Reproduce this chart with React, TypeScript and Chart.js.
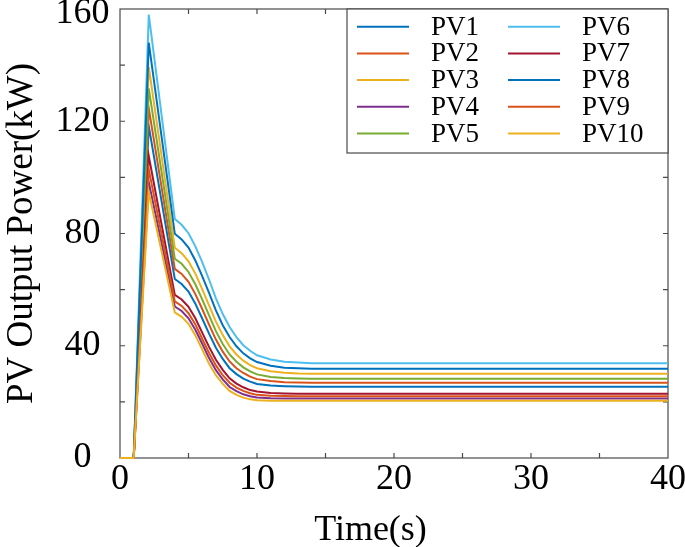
import { useEffect, useRef } from "react"
import { Chart, registerables } from "chart.js"

Chart.register(...registerables)

// time samples (s)
const times = [0, 1, 2.1, 4, 4.5, 5, 5.5, 6, 6.5, 7, 7.5, 8, 8.5, 9, 9.5, 10, 11, 12, 13, 14, 40]

// PV output power (kW)
const pv1 = [0, 0, 118.3, 63.8, 62.0, 59.3, 55.0, 49.7, 44.3, 39.3, 35.3, 32.0, 29.9, 28.3, 27.2, 26.4, 25.8, 25.6, 25.5, 25.4, 25.4]
const pv2 = [0, 0, 124.6, 67.4, 65.6, 62.8, 58.4, 53.1, 47.5, 42.2, 37.9, 34.4, 32.0, 30.3, 29.0, 28.1, 27.4, 27.0, 26.9, 26.8, 26.8]
const pv3 = [0, 0, 139.4, 74.9, 73.0, 70.1, 65.7, 60.2, 54.4, 48.6, 43.8, 39.8, 36.9, 34.7, 33.1, 32.0, 30.9, 30.4, 30.1, 30.0, 30.0]
const pv4 = [0, 0, 98.3, 54.0, 52.4, 49.8, 45.7, 40.7, 35.6, 31.3, 28.0, 25.3, 23.8, 22.7, 22.0, 21.6, 21.3, 21.2, 21.2, 21.2, 21.2]
const pv5 = [0, 0, 131.7, 71.0, 69.2, 66.3, 61.9, 56.5, 50.8, 45.2, 40.6, 36.9, 34.3, 32.3, 30.9, 29.8, 28.9, 28.5, 28.3, 28.2, 28.2]
const pv6 = [0, 0, 158.0, 85.2, 83.1, 80.1, 75.4, 69.8, 63.6, 56.9, 51.3, 46.7, 43.1, 40.2, 38.2, 36.6, 35.1, 34.3, 34.0, 33.8, 33.8]
const pv7 = [0, 0, 107.6, 58.1, 56.5, 53.9, 49.8, 44.7, 39.6, 35.0, 31.4, 28.4, 26.5, 25.2, 24.2, 23.7, 23.2, 23.0, 22.9, 22.9, 22.9]
const pv8 = [0, 0, 148.0, 79.9, 77.9, 75.0, 70.4, 64.8, 58.8, 52.6, 47.3, 43.1, 39.8, 37.3, 35.5, 34.2, 32.9, 32.2, 32.0, 31.8, 31.8]
const pv9 = [0, 0, 102.9, 55.8, 54.2, 51.6, 47.6, 42.5, 37.4, 33.0, 29.5, 26.8, 25.1, 23.9, 23.1, 22.5, 22.2, 22.1, 22.0, 22.0, 22.0]
const pv10 = [0, 0, 94.7, 51.9, 50.3, 47.8, 43.7, 38.7, 33.6, 29.5, 26.4, 23.9, 22.5, 21.5, 20.9, 20.6, 20.4, 20.4, 20.4, 20.4, 20.4]

const seriesNames = ["PV1", "PV2", "PV3", "PV4", "PV5", "PV6", "PV7", "PV8", "PV9", "PV10"]
const seriesValues = [pv1, pv2, pv3, pv4, pv5, pv6, pv7, pv8, pv9, pv10]
const colors = [
  "#0072BD", "#D95319", "#EDB120", "#7E2F8E", "#77AC30",
  "#4DBEEE", "#A2142F", "#0072BD", "#D95319", "#EDB120",
]

const FONT = "'Liberation Serif', 'Times New Roman', serif"
const axisColor = "#4a4a4a"

// MATLAB-like box, inward ticks, y tick labels, x label and two-column legend
const matlabAxes = {
  id: "matlabAxes",
  beforeDatasetsDraw(chart: any) {
    const { ctx, chartArea: a, scales } = chart
    ctx.save()
    ctx.strokeStyle = axisColor
    ctx.lineWidth = 1.2
    ctx.strokeRect(a.left, a.top, a.right - a.left, a.bottom - a.top)
    ctx.beginPath()
    scales.x.ticks.forEach((t: any) => {
      const px = scales.x.getPixelForValue(t.value)
      if (px <= a.left + 1 || px >= a.right - 1) return
      ctx.moveTo(px, a.bottom)
      ctx.lineTo(px, a.bottom - 5)
      ctx.moveTo(px, a.top)
      ctx.lineTo(px, a.top + 5)
    })
    scales.y.ticks.forEach((t: any) => {
      const py = scales.y.getPixelForValue(t.value)
      if (py <= a.top + 1 || py >= a.bottom - 1) return
      ctx.moveTo(a.left, py)
      ctx.lineTo(a.left + 5, py)
      ctx.moveTo(a.right, py)
      ctx.lineTo(a.right - 5, py)
    })
    ctx.stroke()
    ctx.restore()
  },
  afterDraw(chart: any) {
    const { ctx, chartArea: a, scales } = chart
    ctx.save()
    ctx.fillStyle = "#000"
    ctx.font = `36px ${FONT}`
    ctx.textAlign = "center"
    ctx.textBaseline = "middle"

    // y tick labels, kept inside the canvas at the top like MATLAB
    scales.y.ticks.forEach((t: any) => {
      if (t.value % 40 !== 0) return
      const py = Math.max(scales.y.getPixelForValue(t.value), a.top + 5)
      ctx.fillText(String(t.value), a.left - 37.5, py)
    })

    // x axis title
    ctx.fillText("Time(s)", 370.5, 531)

    // legend
    const lw = 321
    const lh = 144
    const lx = a.right - lw
    const ly = a.top
    ctx.fillStyle = "#fff"
    ctx.fillRect(lx, ly, lw, lh)
    ctx.strokeStyle = axisColor
    ctx.lineWidth = 1.2
    ctx.strokeRect(lx, ly, lw, lh)
    ctx.font = `27px ${FONT}`
    ctx.textAlign = "left"
    chart.data.datasets.forEach((ds: any, i: number) => {
      const col = Math.floor(i / 5)
      const row = i % 5
      const x0 = lx + 10 + col * 151
      const cy = ly + 17.7 + row * 26.7
      ctx.strokeStyle = ds.borderColor
      ctx.lineWidth = 2
      ctx.beginPath()
      ctx.moveTo(x0, cy)
      ctx.lineTo(x0 + 52, cy)
      ctx.stroke()
      ctx.fillStyle = "#000"
      ctx.fillText(ds.label, x0 + 74, cy + 1)
    })
    ctx.restore()
  },
}

export default function App() {
  const canvasRef = useRef<HTMLCanvasElement>(null)
  const chartInstance = useRef<Chart | null>(null)

  useEffect(() => {
    if (!canvasRef.current) return
    if (chartInstance.current) chartInstance.current.destroy()

    const datasets = seriesNames.map((name, i) => ({
      label: name,
      data: times.map((t, k) => ({ x: t, y: seriesValues[i][k] })),
      borderColor: colors[i],
      backgroundColor: colors[i],
      borderWidth: 2,
      pointRadius: 0,
      fill: false,
      tension: 0,
      order: seriesNames.length - i,
      clip: { left: 0, top: 0, right: 0, bottom: 2 },
    }))

    chartInstance.current = new Chart(canvasRef.current, {
      type: "line",
      data: { datasets },
      plugins: [matlabAxes],
      options: {
        responsive: true,
        maintainAspectRatio: false,
        animation: false,
        layout: { padding: { left: 0, right: 17, top: 9, bottom: 0 } },
        plugins: {
          legend: { display: false },
          tooltip: { enabled: false },
        },
        scales: {
          x: {
            type: "linear",
            min: 0,
            max: 40,
            grid: { display: false, drawTicks: false },
            border: { display: false },
            ticks: {
              stepSize: 5,
              autoSkip: false,
              maxRotation: 0,
              padding: 0,
              color: "#000",
              font: { family: FONT, size: 36 },
              callback: (v: any) => (Number(v) % 10 === 0 ? String(v) : ""),
            },
            afterFit: (s: any) => {
              s.height = 89
              s.paddingLeft = 0
              s.paddingRight = 0
            },
          },
          y: {
            min: 0,
            max: 160,
            grid: { display: false, drawTicks: false },
            border: { display: false },
            title: {
              display: true,
              text: "PV Output Power(kW)",
              color: "#000",
              padding: 0,
              font: { family: FONT, size: 37 },
            },
            ticks: {
              stepSize: 20,
              autoSkip: false,
              display: false,
            },
            afterFit: (s: any) => {
              s.width = 120
              s.paddingTop = 0
              s.paddingBottom = 0
            },
          },
        },
      },
    })

    return () => {
      if (chartInstance.current) {
        chartInstance.current.destroy()
        chartInstance.current = null
      }
    }
  }, [])

  return (
    <div style={{ position: "fixed", left: 0, top: 0, width: 685, height: 547, background: "#fff" }}>
      <canvas ref={canvasRef} />
    </div>
  )
}
